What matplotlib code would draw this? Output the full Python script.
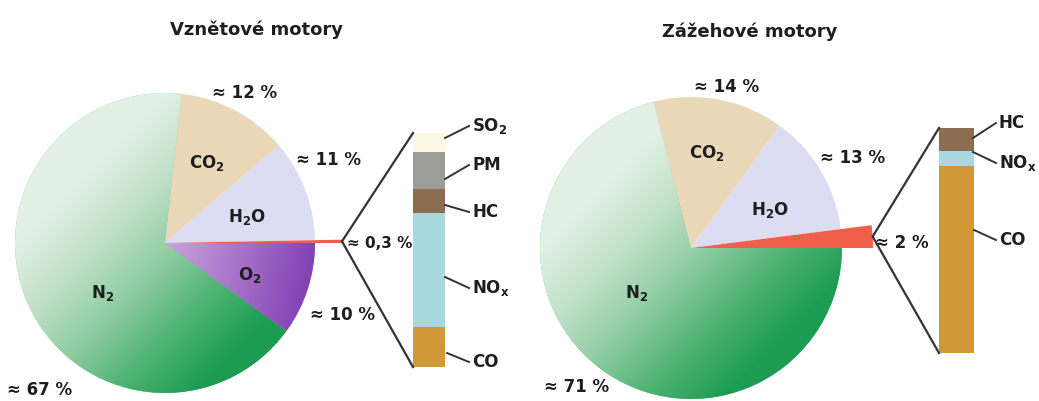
import numpy as np
import matplotlib.pyplot as plt
from matplotlib.colors import LinearSegmentedColormap

plt.rcParams["font.family"] = ["DejaVu Sans"]
plt.rcParams["font.weight"] = "bold"
plt.rcParams["mathtext.fontset"] = "dejavusans"
plt.rcParams["mathtext.default"] = "bf"

W, H = 1039, 401

titles = ["Vznětové motory", "Zážehové motory"]

# slices counter-clockwise from 3 o'clock; first one is the exploded "rest"
diesel_names = ["rest", "H$_2$O", "CO$_2$", "N$_2$", "O$_2$"]
diesel_values = [0.3, 11, 12, 67, 10]
diesel_pct = ["≈ 0,3 %", "≈ 11 %", "≈ 12 %", "≈ 67 %", "≈ 10 %"]
diesel_rest_names = ["SO$_2$", "PM", "HC", "NO$_x$", "CO"]
diesel_rest_values = [8, 16, 10, 49, 17]

petrol_names = ["rest", "H$_2$O", "CO$_2$", "N$_2$"]
petrol_values = [2, 13, 14, 71]
petrol_pct = ["≈ 2 %", "≈ 13 %", "≈ 14 %", "≈ 71 %"]
petrol_rest_names = ["HC", "NO$_x$", "CO"]
petrol_rest_values = [10, 7, 83]

slice_colors = {"rest": "#ef5f4c", "H$_2$O": "#dcdcf3", "CO$_2$": "#ead8b8",
                "N$_2$": "#7cc592", "O$_2$": "#a56cc6"}
rest_colors = {"SO$_2$": "#fcf9e2", "PM": "#9c9c9a", "HC": "#8c6d51",
               "NO$_x$": "#a9d8e1", "CO": "#d09837"}

green = LinearSegmentedColormap.from_list(
    "g", ["#e2f1e4", "#c0e1c8", "#8fcca2", "#4fb374", "#1c9c52"])
purple = LinearSegmentedColormap.from_list("p", ["#caa6dc", "#a874ca", "#8443b4"])
TXT = "#1e1e1e"


def P(x, y):
    # pixel coords (y down) -> data coords (y up)
    return x, H - y


def gradient_fill(ax, wedge, cx, cy, r, cmap, mode):
    n = 300
    xs = np.linspace(cx - r, cx + r, n)
    ys = np.linspace(cy - r, cy + r, n)
    X, Y = np.meshgrid(xs, ys)
    if mode == "diag":
        t = ((X - cx) - (Y - cy)) / (2.2 * r) + 0.45
    else:
        t = (X - cx) / r + 0.2 * (cy - Y) / r
    t = np.clip(t, 0, 1)
    im = ax.imshow(t, extent=(cx - r, cx + r, cy - r, cy + r), origin="lower",
                   cmap=cmap, vmin=0, vmax=1, aspect="auto", zorder=1.5)
    im.set_clip_path(wedge)


def draw(ax, title, title_xy, names, values, pct, pct_xy, inner_xy,
         center, r, r_rest, rest_names, rest_values, bar_x, bar_w, bar_top, bar_bot,
         lab_x, lab_y, lead_from, rest_fs=12):
    cx, cy = P(*center)
    wedges, _ = ax.pie(values, colors=[slice_colors[n] for n in names], startangle=0,
                       counterclock=True, center=(cx, cy), radius=r, frame=True,
                       wedgeprops=dict(linewidth=0, edgecolor="none"))
    for w in wedges:
        w.set_zorder(1)
    wedges[0].set_radius(r_rest)
    wedges[0].set_zorder(2)
    for w, n in zip(wedges, names):
        if n == "N$_2$":
            gradient_fill(ax, w, cx, cy, r, green, "diag")
        if n == "O$_2$":
            gradient_fill(ax, w, cx, cy, r, purple, "x")

    ax.text(*P(*title_xy), title, ha="center", va="center", fontsize=13, color=TXT)
    for i, (s, xy) in enumerate(zip(pct, pct_xy)):
        ax.text(*P(*xy), s, ha="center", va="center", fontsize=rest_fs if i == 0 else 12,
                color=TXT)
    for n, xy in zip(names[1:], inner_xy):
        ax.text(*P(*xy), n, ha="center", va="center", fontsize=12, color=TXT, zorder=5)

    # stacked bar for the small remainder, top segment first
    top = H - bar_top
    scale = (bar_bot - bar_top) / sum(rest_values)
    heights = np.array(rest_values) * scale
    bottoms = top - np.cumsum(heights)
    ax.bar([bar_x] * len(rest_values), heights, bottom=bottoms, width=bar_w, align="edge",
           color=[rest_colors[n] for n in rest_names], linewidth=0, zorder=2)

    # connector lines from the exploded slice tip to the bar
    a = np.deg2rad(values[0] / sum(values) * 360 / 2)
    vx, vy = cx + r_rest * np.cos(a), cy + r_rest * np.sin(a)
    ax.plot([bar_x, vx, bar_x], [top, vy, bottoms[-1]], color="#333333", lw=1.6,
            solid_joinstyle="miter", zorder=3)

    for n, ly, (fx, fy) in zip(rest_names, lab_y, lead_from):
        ax.plot([fx, lab_x - 3], [H - fy, H - ly], color="#333333", lw=1.4, zorder=3)
        ax.text(lab_x, H - ly, n, ha="left", va="center", fontsize=12, color=TXT)


fig = plt.figure(figsize=(W / 100, H / 100), dpi=100)
ax = fig.add_axes([0, 0, 1, 1])

draw(ax, titles[0], (256, 30), diesel_names, diesel_values, diesel_pct,
     [(380, 243), (328, 160), (245, 93), (40, 390), (343, 315)],
     [(247, 217), (207, 163), (103, 293), (250, 275)],
     (165, 243), 150, 177, diesel_rest_names, diesel_rest_values,
     413, 32, 133, 367, 472, [126, 165, 212, 288, 362],
     [(445, 138), (445, 179), (445, 205), (445, 277), (447, 353)], rest_fs=11)

draw(ax, titles[1], (750, 32), petrol_names, petrol_values, petrol_pct,
     [(902, 243), (853, 158), (727, 87), (577, 387)],
     [(770, 210), (707, 153), (637, 293)],
     (691, 248), 151, 182, petrol_rest_names, petrol_rest_values,
     939, 35, 128, 353, 999, [123, 163, 240],
     [(973, 138), (973, 152), (974, 230)])

ax.set_xlim(0, W)
ax.set_ylim(0, H)
ax.set_aspect("auto")
ax.axis("off")

fig.savefig("out.png", dpi=100)
